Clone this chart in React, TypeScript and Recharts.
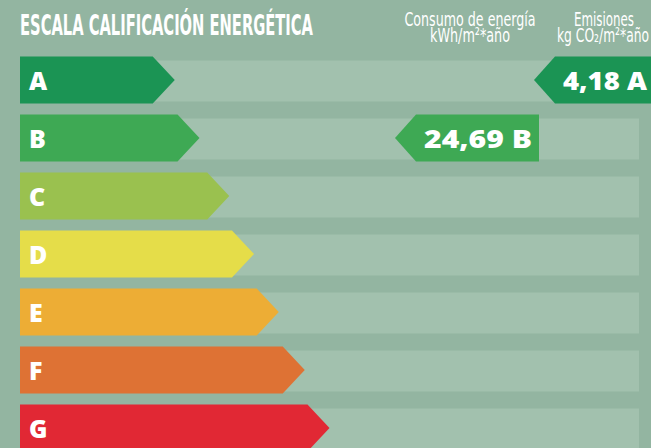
import React from 'react'
import { BarChart, Bar, XAxis, YAxis } from 'recharts'

// Escala de calificación energética
const letters = ['A', 'B', 'C', 'D', 'E', 'F', 'G']
const scaleLength = [25, 29, 33.8, 37.8, 41.8, 46, 50]
const colors = ['#1b9454', '#3ea954', '#9ac14f', '#e5dd49', '#edad35', '#de7234', '#e12834']

// Valores del certificado
const consumo = { value: '24,69', letter: 'B' }
const emisiones = { value: '4,18', letter: 'A' }

const W = 651
const H = 448
const BG = '#93b5a1'
const STRIP = '#a2c1ae'
const TIP = 22
const FONT = '"Open Sans", "DejaVu Sans", sans-serif'
const COND = '"DejaVu Sans Condensed", "DejaVu Sans", sans-serif'

const data = letters.map((l, i) => ({
  letter: l,
  value: scaleLength[i],
  color: colors[i],
  consumo: consumo.letter === l ? consumo.value : null,
  emisiones: emisiones.letter === l ? emisiones.value : null,
}))

const Indicator = ({ left, right, y, height, color, text }: { left: number; right: number; y: number; height: number; color: string; text: string }) => {
  const pts = `${left},${y + height / 2} ${left + 21},${y} ${right},${y} ${right},${y + height} ${left + 21},${y + height}`
  return (
    <g>
      <polygon points={pts} fill={color} />
      <text x={left + 29} y={y + height / 2 + 9.5} fill="#fff" fontFamily={FONT} fontWeight={800} fontSize={25}
        textLength={text.length > 6 ? 108 : 84} lengthAdjust="spacingAndGlyphs">{text}</text>
    </g>
  )
}

const ArrowShape = (props: any) => {
  const { x, y, width, height, payload } = props
  const r = x + width
  const pts = `${x},${y} ${r - TIP},${y} ${r},${y + height / 2} ${r - TIP},${y + height} ${x},${y + height}`
  return (
    <g>
      <polygon points={pts} fill={payload.color} />
      <text x={x + 9} y={y + height / 2 + 10} fill="#fff" fontFamily={FONT} fontWeight={800} fontSize={25}>{payload.letter}</text>
      {payload.consumo && (
        <Indicator left={395} right={539} y={y} height={height} color={payload.color} text={`${payload.consumo} ${payload.letter}`} />
      )}
      {payload.emisiones && (
        <Indicator left={534} right={W + 2} y={y} height={height} color={payload.color} text={`${payload.emisiones} ${payload.letter}`} />
      )}
    </g>
  )
}

const Strip = (props: any) => {
  const { x, y, width, height } = props
  return <rect x={x} y={y + 4} width={width} height={height - 6} fill={STRIP} />
}

export default function App() {
  return (
    <div style={{ position: 'absolute', left: 0, top: 0, width: W, height: H, overflow: 'hidden', background: BG }}>
      <BarChart width={W} height={460} data={data} layout="vertical" margin={{ top: 50.5, right: 12, bottom: 3.5, left: 20 }} barCategoryGap={11}>
        <XAxis type="number" domain={[0, 100]} hide />
        <YAxis type="category" dataKey="letter" hide width={0} />
        <Bar dataKey="value" barSize={47} isAnimationActive={false} shape={ArrowShape} background={Strip} />
      </BarChart>
      <svg width={W} height={50} style={{ position: 'absolute', left: 0, top: 0 }}>
        <text x={20} y={35} fill="#fff" fontFamily={COND} fontWeight={700} fontSize={28}
          textLength={293} lengthAdjust="spacingAndGlyphs">ESCALA CALIFICACIÓN ENERGÉTICA</text>
        <g fill="#fff" fontFamily={COND} fontSize={20} textAnchor="middle">
          <text x={470} y={26} textLength={131} lengthAdjust="spacingAndGlyphs">Consumo de energía</text>
          <text x={470} y={42} textLength={80} lengthAdjust="spacingAndGlyphs">kWh/m²*año</text>
          <text x={604} y={26} textLength={60} lengthAdjust="spacingAndGlyphs">Emisiones</text>
          <text x={603} y={42} textLength={92} lengthAdjust="spacingAndGlyphs">kg CO₂/m²*año</text>
        </g>
      </svg>
    </div>
  )
}
